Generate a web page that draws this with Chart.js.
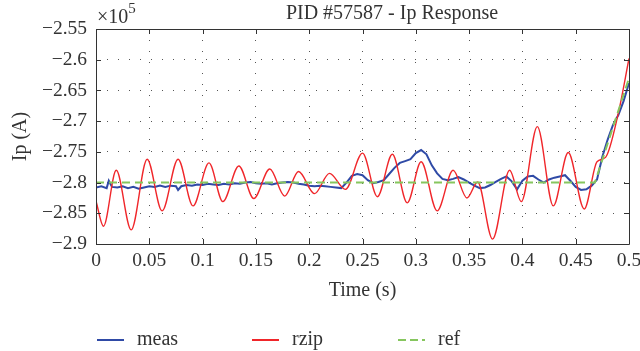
<!DOCTYPE html>
<html>
<head>
<meta charset="utf-8">
<script src="https://cdn.jsdelivr.net/npm/chart.js@4/dist/chart.umd.min.js"></script>
<style>
  html, body { margin: 0; padding: 0; background: #fff; }
  #wrap { position: relative; width: 640px; height: 351px; }
  #legend { position: absolute; left: 0; top: 0; width: 640px; height: 351px; pointer-events: none;
            font-family: "Liberation Serif", "DejaVu Serif", serif; font-size: 20px; color: #333; }
  .swatch { position: absolute; top: 339px; width: 27px; height: 1.5px; }
  .lbl { position: absolute; top: 328px; line-height: 20px; white-space: nowrap; }
</style>
</head>
<body>
<div id="wrap">
  <canvas id="chart" width="640" height="351"></canvas>
  <div id="legend"></div>
</div>
<script>
// measured plasma current (x1e5 A)
var measT = [0, 0.005, 0.01, 0.012, 0.015, 0.02, 0.025, 0.03, 0.035, 0.04, 0.045, 0.05, 0.055, 0.06, 0.065, 0.07, 0.075, 0.077, 0.08,
  0.085, 0.09, 0.095, 0.1, 0.105, 0.11, 0.115, 0.12, 0.125, 0.13, 0.135, 0.14, 0.145, 0.15, 0.155, 0.16, 0.165, 0.17, 0.175,
  0.18, 0.185, 0.19, 0.195, 0.2, 0.205, 0.21, 0.215, 0.22, 0.225, 0.23, 0.235, 0.24, 0.245, 0.25, 0.255, 0.26, 0.265, 0.27,
  0.275, 0.28, 0.285, 0.29, 0.295, 0.3, 0.305, 0.31, 0.315, 0.32, 0.325, 0.33, 0.335, 0.34, 0.345, 0.35, 0.355, 0.36, 0.365,
  0.37, 0.375, 0.38, 0.385, 0.39, 0.395, 0.4, 0.405, 0.41, 0.415, 0.42, 0.425, 0.43, 0.435, 0.44, 0.445, 0.45, 0.455, 0.46,
  0.465, 0.47, 0.475, 0.48, 0.485, 0.49, 0.495, 0.5];
var measI = [-2.808, -2.806, -2.809, -2.797, -2.807, -2.808, -2.806, -2.809, -2.807, -2.810, -2.808, -2.806, -2.807, -2.805,
  -2.807, -2.805, -2.806, -2.812, -2.806, -2.804, -2.805, -2.803, -2.804, -2.802, -2.803, -2.804, -2.802, -2.803, -2.801,
  -2.802, -2.800, -2.799, -2.801, -2.802, -2.801, -2.803, -2.801, -2.800, -2.799, -2.800, -2.802, -2.803, -2.805, -2.806,
  -2.805, -2.806, -2.807, -2.808, -2.809, -2.800, -2.789, -2.786, -2.788, -2.796, -2.801, -2.799, -2.796, -2.786, -2.776,
  -2.768, -2.765, -2.762, -2.752, -2.747, -2.754, -2.772, -2.785, -2.794, -2.796, -2.794, -2.791, -2.795, -2.800, -2.805,
  -2.809, -2.808, -2.804, -2.799, -2.794, -2.790, -2.798, -2.811, -2.797, -2.790, -2.789, -2.795, -2.800, -2.795, -2.792,
  -2.790, -2.788, -2.797, -2.807, -2.812, -2.811, -2.805, -2.795, -2.758, -2.730, -2.706, -2.690, -2.667, -2.638];

// rzip model response (turning points)
var rzipT = [0, 0.007, 0.019, 0.033, 0.048, 0.062, 0.077, 0.091, 0.106, 0.119, 0.134, 0.148, 0.163, 0.177, 0.19, 0.205,
  0.219, 0.234, 0.25, 0.264, 0.278, 0.292, 0.305, 0.32, 0.335, 0.348, 0.358, 0.372, 0.388, 0.399, 0.414, 0.429, 0.443,
  0.458, 0.47, 0.478, 0.49, 0.5];
var rzipI = [-2.830, -2.871, -2.780, -2.877, -2.762, -2.846, -2.762, -2.838, -2.768, -2.831, -2.773, -2.826, -2.778,
  -2.822, -2.782, -2.818, -2.785, -2.811, -2.752, -2.823, -2.754, -2.833, -2.766, -2.846, -2.780, -2.825, -2.799, -2.892,
  -2.780, -2.831, -2.709, -2.838, -2.751, -2.843, -2.766, -2.759, -2.687, -2.598];

// reference
var refT = [0, 0.468, 0.5];
var refI = [-2.8, -2.8, -2.63];

var seriesNames = ['meas', 'rzip', 'ref'];
var seriesColors = ['#2f4aa6', '#f0262a', '#86c65e'];

var xMin = 0, xMax = 0.5, xStep = 0.05;
var yMin = -2.9, yMax = -2.55, yStep = 0.05;

var titleText = 'PID #57587 - Ip Response';
var serif = '"Liberation Serif", "DejaVu Serif", serif';

function toPoints(t, v) {
  return t.map(function (x, i) { return { x: x, y: v[i] }; });
}

function fmt(v) {
  var s = String(+v.toFixed(2));
  return s.replace('-', '\u2212');
}

// frame, inward ticks, title and exponent
var framePlugin = {
  id: 'frame',
  afterDraw: function (chart) {
    var ctx = chart.ctx, a = chart.chartArea;
    var xs = chart.scales.x, ys = chart.scales.y;
    ctx.save();
    ctx.strokeStyle = '#333';
    ctx.lineWidth = 1;
    ctx.beginPath();
    ctx.rect(Math.round(a.left) + 0.5, Math.round(a.top) + 0.5,
      Math.round(a.right - a.left), Math.round(a.bottom - a.top));
    ctx.stroke();

    ctx.beginPath();
    xs.ticks.forEach(function (t) {
      var px = Math.round(xs.getPixelForValue(t.value)) + 0.5;
      ctx.moveTo(px, a.bottom); ctx.lineTo(px, a.bottom - 5);
      ctx.moveTo(px, a.top); ctx.lineTo(px, a.top + 5);
    });
    ys.ticks.forEach(function (t) {
      var py = Math.round(ys.getPixelForValue(t.value)) + 0.5;
      ctx.moveTo(a.left, py); ctx.lineTo(a.left + 5, py);
      ctx.moveTo(a.right, py); ctx.lineTo(a.right - 5, py);
    });
    ctx.stroke();

    ctx.fillStyle = '#333';
    ctx.textBaseline = 'alphabetic';
    ctx.textAlign = 'center';
    ctx.font = '20px ' + serif;
    ctx.fillText(titleText, 392, 19);

    ctx.textAlign = 'left';
    ctx.font = '20px ' + serif;
    ctx.fillText('\u00d710', a.left + 1, 23);
    var w = ctx.measureText('\u00d710').width;
    ctx.font = '15px ' + serif;
    ctx.fillText('5', a.left + 1 + w, 13);
    ctx.restore();
  }
};

var ctx = document.getElementById('chart');

new Chart(ctx, {
  type: 'line',
  data: {
    datasets: [
      {
        label: seriesNames[2],
        data: toPoints(refT, refI),
        borderColor: seriesColors[2],
        borderWidth: 2,
        borderDash: [8, 5],
        pointRadius: 0,
        tension: 0,
        order: 0
      },
      {
        label: seriesNames[1],
        data: toPoints(rzipT, rzipI),
        borderColor: seriesColors[1],
        borderWidth: 1.4,
        pointRadius: 0,
        cubicInterpolationMode: 'monotone',
        order: 1
      },
      {
        label: seriesNames[0],
        data: toPoints(measT, measI),
        borderColor: seriesColors[0],
        borderWidth: 2,
        pointRadius: 0,
        tension: 0,
        order: 2
      }
    ]
  },
  options: {
    responsive: false,
    animation: false,
    layout: {
      padding: { left: 0, right: 11, top: 29, bottom: 0 }
    },
    plugins: {
      legend: { display: false },
      tooltip: { enabled: false }
    },
    scales: {
      x: {
        type: 'linear',
        min: xMin,
        max: xMax,
        ticks: {
          stepSize: xStep,
          padding: 5,
          color: '#333',
          font: { family: serif, size: 19.5 },
          maxRotation: 0,
          autoSkip: false,
          callback: function (v) { return fmt(v); }
        },
        grid: { drawTicks: false, color: '#555', lineWidth: 1 },
        border: { display: false, dash: [1, 10] },
        title: {
          display: true,
          text: 'Time (s)',
          color: '#333',
          font: { family: serif, size: 20 },
          padding: { top: 0, bottom: 48 }
        },
        afterFit: function (s) {
          s.height = 107;
          s.paddingLeft = 0;
          s.paddingRight = 0;
        }
      },
      y: {
        min: yMin,
        max: yMax,
        ticks: {
          stepSize: yStep,
          padding: 9,
          color: '#333',
          font: { family: serif, size: 19.5 },
          callback: function (v) { return fmt(v); }
        },
        grid: { drawTicks: false, color: '#555', lineWidth: 1 },
        border: { display: false, dash: [1, 10] },
        title: {
          display: true,
          text: 'Ip (A)',
          color: '#333',
          font: { family: serif, size: 20 },
          padding: { top: 9, bottom: 0 }
        },
        afterFit: function (s) {
          s.width = 96;
          s.paddingTop = 0;
          s.paddingBottom = 0;
        }
      }
    }
  },
  plugins: [framePlugin]
});

// legend below the plot
var legend = document.getElementById('legend');
var swatchLeft = [97, 252, 398];
var textLeft = [137, 292, 438];
seriesNames.forEach(function (name, i) {
  var sw = document.createElement('div');
  sw.className = 'swatch';
  sw.style.left = swatchLeft[i] + 'px';
  if (i === 2) {
    sw.style.background = 'repeating-linear-gradient(90deg, ' + seriesColors[i] + ' 0px, ' +
      seriesColors[i] + ' 8px, transparent 8px, transparent 12px)';
  } else {
    sw.style.background = seriesColors[i];
  }
  legend.appendChild(sw);
  var tx = document.createElement('div');
  tx.className = 'lbl';
  tx.style.left = textLeft[i] + 'px';
  tx.textContent = name;
  legend.appendChild(tx);
});
</script>
</body>
</html>
